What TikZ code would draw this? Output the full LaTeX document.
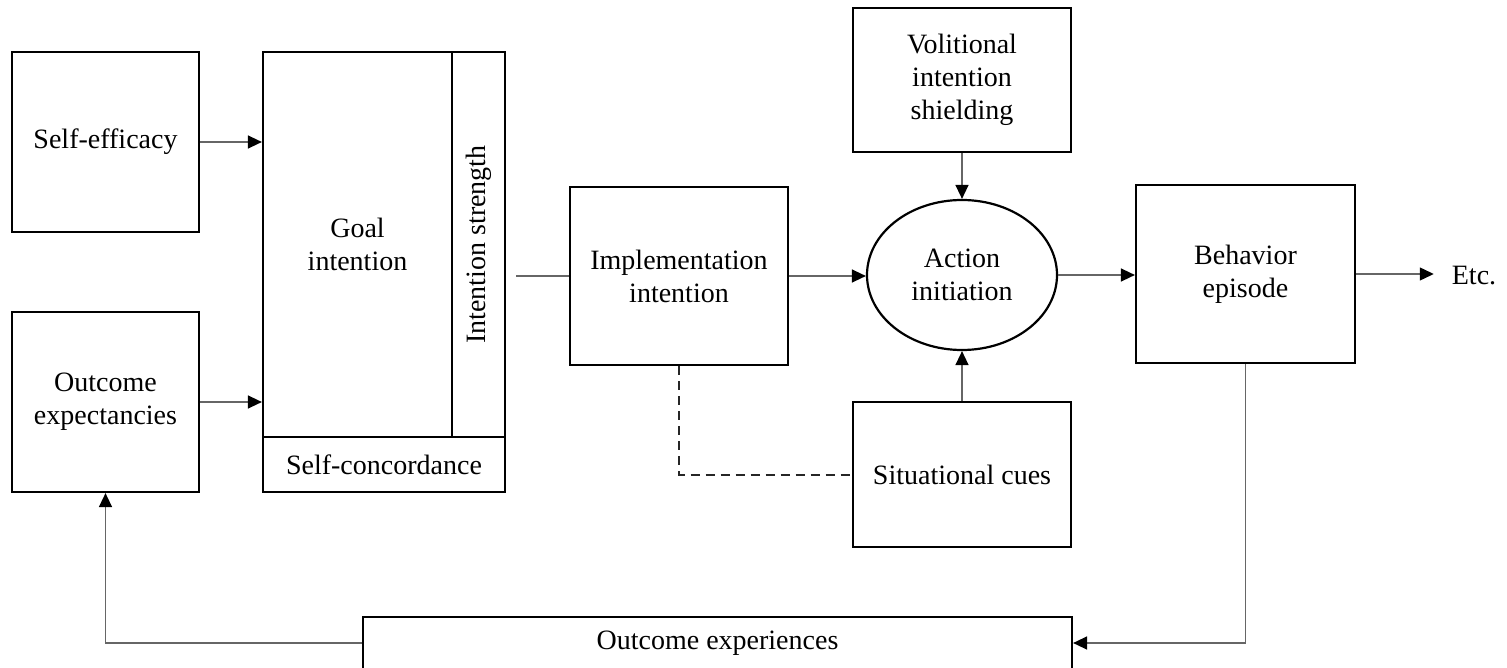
\documentclass[tikz,border=0pt]{standalone}
\usepackage{fontspec}
\setmainfont{Liberation Serif}
\usetikzlibrary{shapes.geometric,arrows.meta}
\begin{document}
\begin{tikzpicture}[x=1pt,y=-1pt,
  box/.style={draw, line width=2.2pt, align=center, inner sep=2pt, font=\fontsize{28}{33}\selectfont},
  conn/.style={draw=black!60, line width=1.4pt},
  arr/.style={conn, -{Triangle[length=14pt,width=13pt,color=black]}},
  dashconn/.style={draw=black!85, line width=2pt, dash pattern=on 9pt off 6pt}
]
\useasboundingbox (0,0) rectangle (1507,668);
\node[box, minimum width=187, minimum height=180] (se) at (105.5,142) {Self-efficacy};
\node[box, minimum width=187, minimum height=180] (oe) at (105.5,402) {Outcome\\expectancies};
\node[box, minimum width=189, minimum height=385] (goal) at (357.5,244.5) {Goal\\intention};
\node[box, rotate=90, minimum width=385, minimum height=53] (str) at (478.5,244.5) {Intention strength};
\node[box, minimum width=242, minimum height=55] (sc) at (384,464.5) {Self-concordance};
\node[box, minimum width=218, minimum height=178] (impl) at (679,276) {Implementation\\intention};
\node[box, ellipse, minimum width=190, minimum height=150] (act) at (962,275) {Action\\initiation};
\node[box, minimum width=218, minimum height=144] (vol) at (962,80) {Volitional\\intention\\shielding};
\node[box, minimum width=218, minimum height=145] (sit) at (962,474.5) {Situational cues};
\node[box, minimum width=219, minimum height=178] (beh) at (1245.5,274) {Behavior\\episode};
\node[box, draw=none] (etc) at (1474,276) {Etc.};
\node[box, minimum width=709, minimum height=52] (oexp) at (717.5,643) {Outcome experiences};
\coordinate (gout) at (516,276);
\draw[arr] (se.east) -- (se.east -| goal.west);
\draw[arr] (oe.east) -- (oe.east -| goal.west);
\draw[conn] (gout) -- (impl.west);
\draw[arr] (impl.east) -- (impl.east -| act.west);
\draw[arr] (vol.south) -- (act.north);
\draw[arr] (sit.north) -- (act.south);
\draw[arr] (act.east) -- (act.east -| beh.west);
\draw[arr, shorten >=15pt] (beh.east) -- (beh.east -| etc.west);
\draw[arr] (beh.south) |- (oexp.east);
\draw[arr] (oexp.west) -| (oe.south);
\draw[dashconn] (impl.south) |- (sit.west);
\end{tikzpicture}
\end{document}
